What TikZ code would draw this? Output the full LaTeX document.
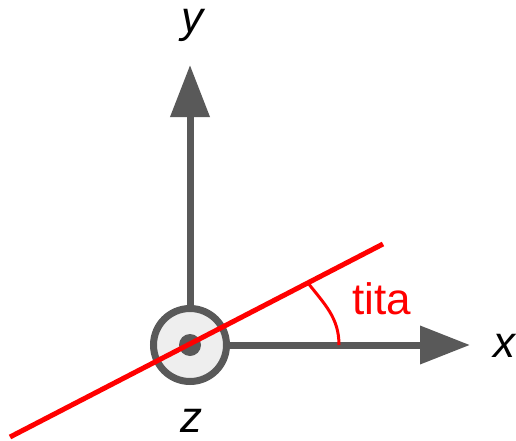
\documentclass[tikz,border=0pt]{standalone}
\usepackage{fontspec}
\setmainfont{Liberation Sans}
\usetikzlibrary{positioning, arrows.meta}
\definecolor{axisgray}{HTML}{595959}
\definecolor{dotfill}{HTML}{EEEEEE}
\definecolor{titared}{HTML}{FF0000}
\tikzset{
  axis/.style={draw=axisgray, line width=7pt},
  lbl/.style={font=\fontsize{44}{48}\selectfont\itshape, inner sep=0pt, anchor=base}
}

\begin{document}
\begin{tikzpicture}[x=1pt, y=1pt]
  \useasboundingbox (0,0) rectangle (516,440);
  \node[circle, draw=axisgray, line width=7pt, fill=dotfill, minimum size=73pt, inner sep=0pt] (o) at (190,95) {};
  \coordinate (ytip) at (190,375);
  \coordinate (xtip) at (470,95);
  \draw[axis, -{Triangle[length=52pt, width=38pt]}] (o.north) -- (ytip);
  \draw[axis, -{Triangle[length=50pt, width=37pt]}] (o.east) -- (xtip);
  \fill[axisgray] (o.center) circle (11pt);
  % line at angle tita
  \coordinate (lstart) at (10,3);
  \coordinate (lend) at (383,196);
  \draw[titared, line width=5pt] (lstart) -- (lend);
  \coordinate (arcA) at (308,157);
  \coordinate (arcB) at (339,95);
  \draw[titared, line width=3pt] (arcA) to[out=-52, in=90] (arcB);
  \node[lbl] (y) at (192,407) {y};
  \node[lbl] (x) at (504,83) {x};
  \node[lbl] (z) at (191,8) {z};
  \node[font=\fontsize{44}{48}\selectfont, text=titared, inner sep=0pt, anchor=base west] (tita) at (352,126) {tita};
\end{tikzpicture}
\end{document}
